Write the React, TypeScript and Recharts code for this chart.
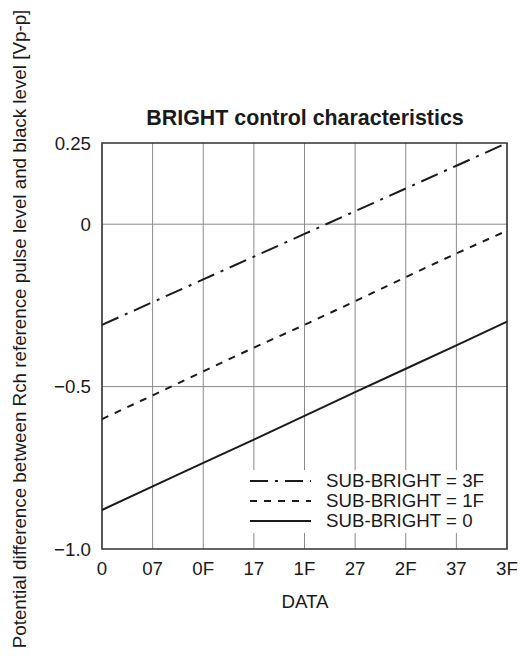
import React from 'react';
import { LineChart, Line, XAxis, YAxis, CartesianGrid, Legend, ReferenceArea, Customized } from 'recharts';

const codes = ['0', '07', '0F', '17', '1F', '27', '2F', '37', '3F'];
const sub3F = [-0.31, -0.24, -0.17, -0.10, -0.03, 0.04, 0.11, 0.18, 0.25];
const sub1F = [-0.60, -0.527, -0.453, -0.38, -0.31, -0.237, -0.163, -0.09, -0.02];
const sub0 = [-0.88, -0.807, -0.735, -0.663, -0.59, -0.517, -0.445, -0.373, -0.30];
const yTicks = [-1, -0.5, 0, 0.25];
const yTickLabels = ['\u22121.0', '\u22120.5', '0', '0.25'];

const seriesNames = ['SUB-BRIGHT = 3F', 'SUB-BRIGHT = 1F', 'SUB-BRIGHT = 0'];
const dashes = ['18 7 3 7', '7 7', undefined];

const data = codes.map((c, i) => ({ code: c, s3F: sub3F[i], s1F: sub1F[i], s0: sub0[i] }));

const FONT = '"Liberation Sans", Arial, sans-serif';
const INK = '#1a1a1a';
const FS = 18.7;

const LegendBox = () => (
  <div style={{ background: '#fff', padding: '1px 6px 2px 5px', fontFamily: FONT, fontSize: FS, color: INK }}>
    {seriesNames.map((n, i) => (
      <div key={n} style={{ display: 'flex', alignItems: 'center', height: 20 }}>
        <svg width={61} height={20} style={{ display: 'block' }}>
          <line x1={0} x2={61} y1={10} y2={10} stroke={INK} strokeWidth={2} strokeDasharray={dashes[i]} />
        </svg>
        <span style={{ marginLeft: 15, whiteSpace: 'nowrap', lineHeight: '20px' }}>{n}</span>
      </div>
    ))}
  </div>
);

const Texts = () => (
  <g fontFamily={FONT} fill={INK}>
    <text x={305} y={125} textAnchor="middle" fontSize={21.4} fontWeight="bold">BRIGHT control characteristics</text>
    <text x={305} y={608} textAnchor="middle" fontSize={FS}>DATA</text>
    <text x={0} y={0} transform="translate(26,329) rotate(-90)" textAnchor="middle" fontSize={18.8}>
      Potential difference between Rch reference pulse level and black level [Vp-p]
    </text>
  </g>
);

export default function App() {
  return (
    <div style={{ width: 521, height: 662, overflow: 'visible' }}>
      <style>{`html,body{margin:0;padding:0;overflow:hidden}#root{overflow:visible !important}.recharts-surface{overflow:visible !important}.recharts-wrapper{overflow:visible !important}`}</style>
      <LineChart width={521} height={662} data={data} margin={{ top: 143, right: 14, bottom: 53, left: 42 }}>
        <CartesianGrid stroke="#8a8a8a" strokeWidth={1} horizontalValues={[-0.5, 0]} />
        <XAxis
          dataKey="code"
          height={60}
          tickLine={false}
          axisLine={false}
          tickMargin={7}
          interval={0}
          tick={{ fontSize: FS, fill: INK, fontFamily: FONT }}
        />
        <YAxis
          type="number"
          domain={[-1, 0.25]}
          ticks={yTicks}
          width={60}
          tickLine={false}
          axisLine={false}
          tickMargin={5}
          tickFormatter={(v: number) => yTickLabels[yTicks.indexOf(v)] ?? String(v)}
          tick={{ fontSize: FS, fill: INK, fontFamily: FONT }}
        />
        <ReferenceArea x1="0" x2="3F" y1={-1} y2={0.25} fill="none" stroke="#333" strokeWidth={1.5} ifOverflow="visible" />
        <Legend
          layout="vertical"
          align="center"
          verticalAlign="middle"
          content={<LegendBox />}
          wrapperStyle={{ position: 'absolute', left: 245, top: 470, width: 'auto', height: 'auto' }}
        />
        <Line dataKey="s3F" name={seriesNames[0]} stroke={INK} strokeWidth={2} strokeDasharray={dashes[0]} dot={false} isAnimationActive={false} />
        <Line dataKey="s1F" name={seriesNames[1]} stroke={INK} strokeWidth={2} strokeDasharray={dashes[1]} dot={false} isAnimationActive={false} />
        <Line dataKey="s0" name={seriesNames[2]} stroke={INK} strokeWidth={2} dot={false} isAnimationActive={false} />
        <Customized component={Texts} />
      </LineChart>
    </div>
  );
}
